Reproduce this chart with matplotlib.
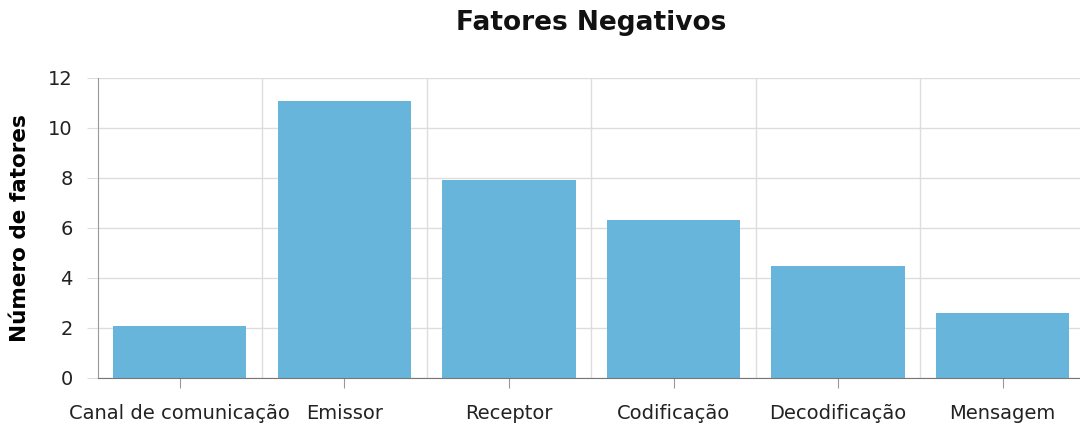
import matplotlib
matplotlib.use("Agg")
import matplotlib.pyplot as plt
import numpy as np

categories = ["Canal de comunicação", "Emissor", "Receptor", "Codificação", "Decodificação", "Mensagem"]
values = [2.05, 11.07, 7.9, 6.31, 4.45, 2.58]
yticks = [0, 2, 4, 6, 8, 10, 12]
title = "Fatores Negativos"
ylabel = "Número de fatores"

plt.rcParams['font.family'] = ['DejaVu Sans']
fig = plt.figure(figsize=(10.8, 4.26), dpi=100)
W, H = 1080, 426
left, right, top, bottom = 97.5, 1085, 77.7, 377.7
ax = fig.add_axes([left / W, 1 - bottom / H, (right - left) / W, (bottom - top) / H])

x = np.arange(len(categories))
ax.bar(x, values, width=0.81, color="#68b5db", zorder=2)

ax.set_xlim(-0.5, len(categories) - 0.5)
ax.set_ylim(0, 12)
ax.set_yticks(yticks)
ax.set_xticks(x)
ax.set_xticklabels(categories, fontsize=14, color="#222222")
ax.set_yticklabels([str(v) for v in yticks], fontsize=14, color="#222222")
ax.set_xticks(np.arange(0.5, len(categories) - 0.5, 1), minor=True)

ax.grid(axis="y", which="major", color="#dddddd", linewidth=1, zorder=0)
ax.grid(axis="x", which="minor", color="#dddddd", linewidth=1, zorder=0)
ax.grid(axis="x", which="major", visible=False)

ax.tick_params(axis="x", which="major", length=7, color="#999999", pad=12)
ax.tick_params(axis="x", which="minor", length=0)
ax.tick_params(axis="y", length=8, color="#dddddd", pad=10)

for s in ["top", "right"]:
    ax.spines[s].set_visible(False)
ax.spines["left"].set_color("#999999")
ax.spines["bottom"].set_color("#777777")
ax.spines["left"].set_zorder(3)
ax.spines["bottom"].set_zorder(3)

ax.set_ylabel(ylabel, fontsize=15.5, fontweight="bold", labelpad=13)
fig.text(591 / W, 1 - 23 / H, title, ha="center", va="center", fontsize=19, fontweight="bold", color="#111111")

fig.savefig("out.png", dpi=100)
